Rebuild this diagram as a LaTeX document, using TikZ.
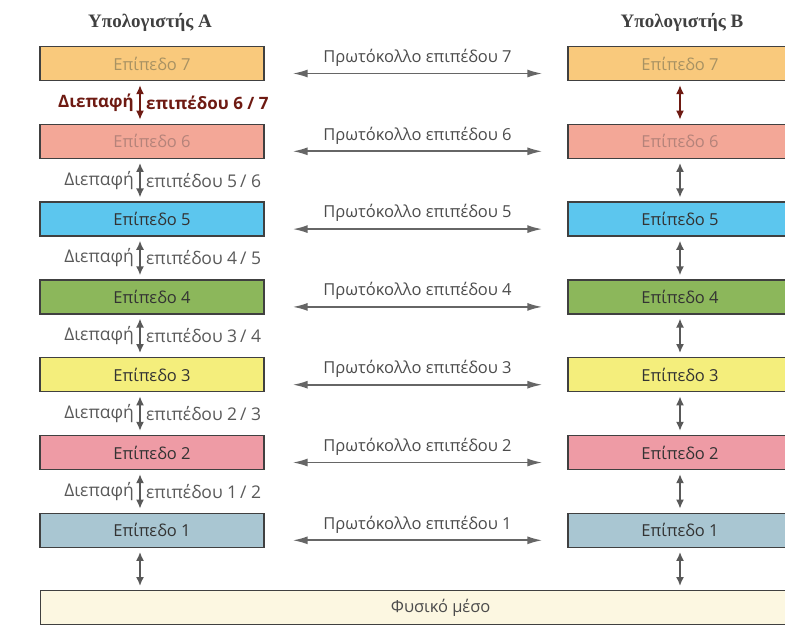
\documentclass[tikz,border=0pt]{standalone}
\usepackage{fontspec}
\setmainfont{Open Sans}
\newfontfamily\headfont{Liberation Serif}
\usetikzlibrary{arrows.meta,calc}
\definecolor{lay7}{HTML}{F9C97C}\definecolor{lay6}{HTML}{F3A797}\definecolor{lay5}{HTML}{5CC6EE}
\definecolor{lay4}{HTML}{8CB75B}\definecolor{lay3}{HTML}{F4EE7C}\definecolor{lay2}{HTML}{EE9BA5}
\definecolor{lay1}{HTML}{A9C6D2}\definecolor{medium}{HTML}{FCF7E1}
\definecolor{txt7}{HTML}{A89263}\definecolor{txt6}{HTML}{B5837A}\definecolor{darkred}{HTML}{6E1A12}

\begin{document}
\begin{tikzpicture}[x=1pt, y=-1pt, font=\fontsize{16.5}{19}\selectfont,
  layer/.style={draw=black!75, line width=1.3pt, minimum width=224pt, minimum height=34pt, inner sep=0pt},
  proto/.style={arrows={Latex[length=15pt,width=8pt]-Latex[length=15pt,width=8pt]}, draw=black!60, line width=1.8pt},
  iface/.style={arrows={Latex[length=9pt,width=8pt]-Latex[length=9pt,width=8pt]}, draw=black!65, line width=1.6pt, shorten <=4pt, shorten >=4pt},
  ilabel/.style={font=\fontsize{17.5}{20}\selectfont, text=black!65},
  ibold/.style={font=\bfseries\fontsize{17}{20}\selectfont, text=darkred},
  head/.style={font=\headfont\bfseries\fontsize{19}{22}\selectfont, text=black!75}]
  \useasboundingbox (0,0) rectangle (785,625);
  \node[head] (ha) at (150,22) {Υπολογιστής A};
  \node[head] (hb) at (682,22) {Υπολογιστής B};
  \foreach \n/\c/\t in {7/lay7/txt7,6/lay6/txt6,5/lay5/black!80,4/lay4/black!80,3/lay3/black!80,2/lay2/black!80,1/lay1/black!80}{
    \node[layer, fill=\c, text=\t] (a\n) at (152,{63.5+(7-\n)*77.8}) {Επίπεδο \n};
    \node[layer, fill=\c, text=\t] (b\n) at (680,{63.5+(7-\n)*77.8}) {Επίπεδο \n};
    \draw[proto] ([shift={(28,10)}]a\n.east) -- ([shift={(-25,10)}]b\n.west)
      node[midway, above=3pt, text=black!70]{Πρωτόκολλο επιπέδου \n};
  }
  \node[layer, fill=medium, minimum width=800pt, anchor=north west, text=black!70] (phys) at (40,590) {Φυσικό μέσο};
  \draw[iface, draw=darkred] ([xshift=-12pt]a7.south) -- ([xshift=-12pt]a6.north)
    node[midway, left=2pt, ibold]{Διεπαφή}
    node[midway, right=2pt, ibold]{επιπέδου 6 / 7};
  \draw[iface, draw=darkred] (b7.south) -- (b6.north);
  \foreach \n in {6,...,2}{
    \pgfmathtruncatemacro{\m}{\n-1}
    \draw[iface] ([xshift=-12pt]a\n.south) -- ([xshift=-12pt]a\m.north)
      node[midway, left=2pt, ilabel]{Διεπαφή}
      node[midway, right=2pt, ilabel]{επιπέδου \m\,/ \n};
    \draw[iface] (b\n.south) -- (b\m.north);
  }
  \draw[iface] ([xshift=-12pt]a1.south) -- ([xshift=-12pt]a1.south |- phys.north);
  \draw[iface] (b1.south) -- (b1.south |- phys.north);
\end{tikzpicture}
\end{document}
